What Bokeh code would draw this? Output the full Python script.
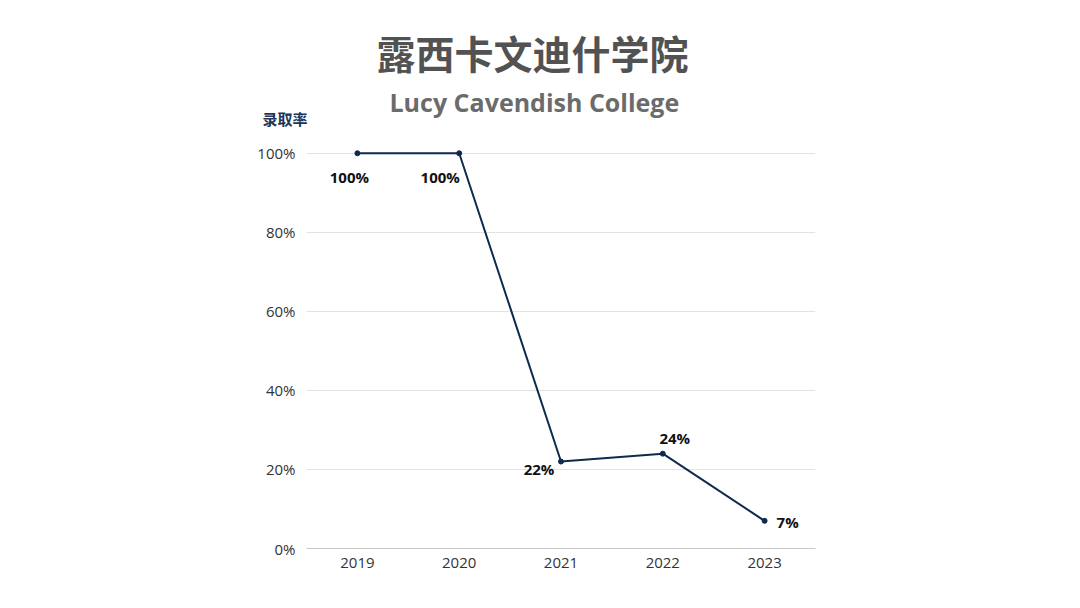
from bokeh.plotting import figure
from bokeh.models import Title, ColumnDataSource, FixedTicker, CustomJSTickFormatter
from bokeh.core.properties import value
from bokeh.embed import file_html
from bokeh.resources import INLINE

years = ["2019", "2020", "2021", "2022", "2023"]
rates = [100, 100, 22, 24, 7]
rate_labels = ["100%", "100%", "22%", "24%", "7%"]
y_ticks = [0, 20, 40, 60, 80, 100]

title_text = "露西卡文迪什学院"
subtitle_text = "Lucy Cavendish College"
ylabel_text = "录取率"

# label offsets (screen px) - styling
lx_off = [-8, -19, -22, 12, 23]
ly_off = [24, 24, 7, -16, 1]

NAVY = "#0f2a4e"
FONT = "Open Sans"

p = figure(x_range=years, y_range=(0, 105), width=1064, height=592,
           title=None, output_backend="svg", toolbar_location=None,
           min_border_left=306, min_border_right=249,
           min_border_top=129, min_border_bottom=44)
p.x_range.range_padding = 0
p.outline_line_color = None
p.background_fill_color = "white"
p.border_fill_color = "white"

src = ColumnDataSource(dict(x=years, y=rates, lab=rate_labels, dx=lx_off, dy=ly_off))
p.line("x", "y", source=src, line_color=NAVY, line_width=2)
p.scatter("x", "y", source=src, size=5, color=NAVY)
p.text("x", "y", text="lab", source=src, x_offset="dx", y_offset="dy",
       text_align="center", text_baseline="middle",
       text_font=value(FONT), text_font_style="bold", text_font_size="15px",
       text_color="#111111")

p.xgrid.grid_line_color = None
p.ygrid.grid_line_color = "#e3e3e3"
p.ygrid.ticker = FixedTicker(ticks=y_ticks)

p.yaxis.ticker = FixedTicker(ticks=y_ticks)
p.yaxis.formatter = CustomJSTickFormatter(code="return tick + '%'")
p.yaxis.axis_line_color = None
p.yaxis.major_tick_line_color = None
p.yaxis.minor_tick_line_color = None
p.yaxis.major_label_standoff = 5
p.yaxis.major_label_text_font = FONT
p.yaxis.major_label_text_font_size = "15px"
p.yaxis.major_label_text_color = "#333333"

p.xaxis.axis_line_color = "#c8c8c8"
p.xaxis.axis_line_width = 1
p.xaxis.major_tick_line_color = None
p.xaxis.minor_tick_line_color = None
p.xaxis.major_label_standoff = 3
p.xaxis.major_label_text_font = FONT
p.xaxis.major_label_text_font_size = "15px"
p.xaxis.major_label_text_color = "#333333"

# stacked outward from the frame: y-label, subtitle, title
p.add_layout(Title(text=ylabel_text, align="left", offset=-44, standoff=10,
                   text_font="Noto Sans CJK SC", text_font_style="bold",
                   text_font_size="15px", text_color="#1d3557"), "above")
p.add_layout(Title(text=subtitle_text, align="left", offset=83, standoff=-36,
                   text_font=FONT, text_font_style="bold",
                   text_font_size="25px", text_color="#6b6b6b"), "above")
p.add_layout(Title(text=title_text, align="left", offset=70, standoff=42,
                   text_font="Noto Sans CJK SC", text_font_style="bold",
                   text_font_size="39px", text_color="#525252"), "above")

open("out.html", "w").write(file_html(p, INLINE))
